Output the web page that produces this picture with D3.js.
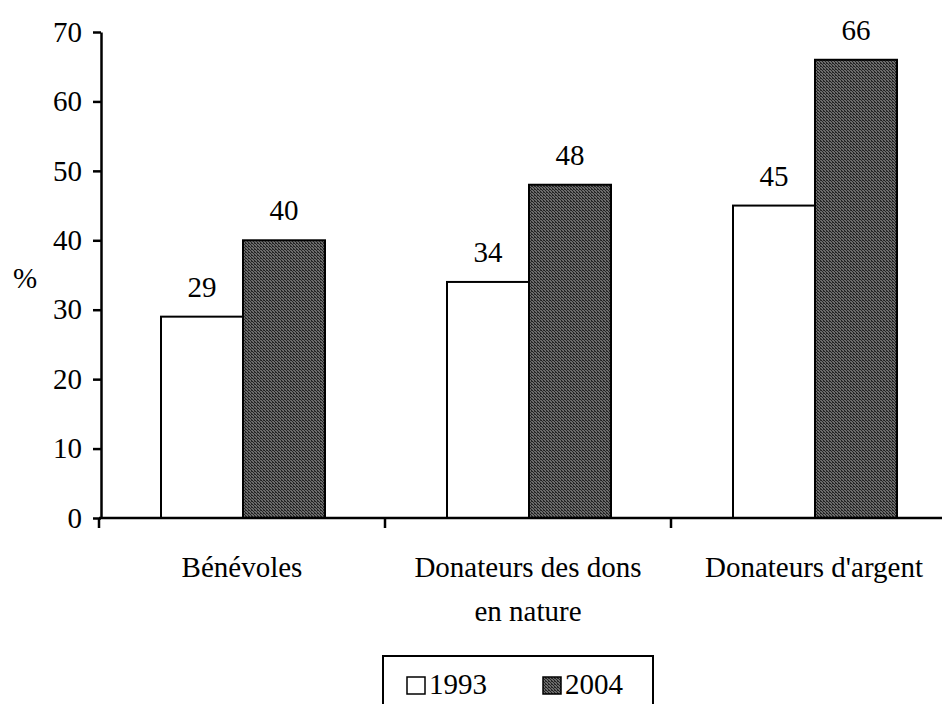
<!DOCTYPE html>
<html>
<head>
<meta charset="utf-8">
<script src="https://cdn.jsdelivr.net/npm/d3@7"></script>
<style>
  html, body { margin: 0; padding: 0; background: #fff; }
  svg { display: block; }
</style>
</head>
<body>
<svg id="chart" width="942" height="704"></svg>
<script>
const categories = [["Bénévoles"], ["Donateurs des dons", "en nature"], ["Donateurs d'argent"]];
const seriesNames = ["1993", "2004"];
const values1993 = [29, 34, 45];
const values2004 = [40, 48, 66];
const yTicks = [0, 10, 20, 30, 40, 50, 60, 70];

const FONT = "'Liberation Serif', 'Times New Roman', Tinos, serif";
const fontSize = 29;

const svg = d3.select("#chart");
const defs = svg.append("defs");
const pat = defs.append("pattern").attr("id", "stip").attr("width", 3).attr("height", 3)
  .attr("patternUnits", "userSpaceOnUse");
pat.append("rect").attr("width", 3).attr("height", 3).attr("fill", "#6c6c6c");
pat.append("rect").attr("x", 0).attr("y", 0).attr("width", 1).attr("height", 1).attr("fill", "#1e1e1e");
pat.append("rect").attr("x", 1).attr("y", 1).attr("width", 1).attr("height", 1).attr("fill", "#262626");
pat.append("rect").attr("x", 2).attr("y", 2).attr("width", 1).attr("height", 1).attr("fill", "#222");
pat.append("rect").attr("x", 2).attr("y", 0).attr("width", 1).attr("height", 1).attr("fill", "#303030");

const fills = ["#ffffff", "url(#stip)"];
const catIdx = categories.map((c, i) => i);

const x0 = d3.scaleBand().domain(catIdx).range([99, 957]).paddingInner(0).paddingOuter(0);
const x1 = d3.scaleBand().domain(seriesNames).range([62, 226]).padding(0);
const y = d3.scaleLinear().domain([0, 70]).range([518, 32]);

// bars
const data = catIdx.map(i => ({ i, vals: [values1993[i], values2004[i]] }));
const groups = svg.append("g").selectAll("g").data(data).join("g")
  .attr("transform", d => `translate(${x0(d.i)},0)`);

groups.selectAll("rect").data(d => d.vals.map((v, k) => ({ v, k })))
  .join("rect")
  .attr("x", d => x1(seriesNames[d.k]))
  .attr("y", d => y(d.v))
  .attr("width", x1.bandwidth())
  .attr("height", d => y(0) - y(d.v))
  .attr("fill", d => fills[d.k])
  .attr("stroke", "#000")
  .attr("stroke-width", 2);

groups.selectAll("text.val").data(d => d.vals.map((v, k) => ({ v, k })))
  .join("text")
  .attr("class", "val")
  .attr("x", d => x1(seriesNames[d.k]) + x1.bandwidth() / 2)
  .attr("y", d => y(d.v) - 20)
  .attr("text-anchor", "middle")
  .style("font-family", FONT)
  .style("font-size", fontSize + "px")
  .attr("fill", "#000")
  .text(d => d.v);

// y axis
const yAxis = d3.axisLeft(y).tickValues(yTicks).tickSize(8).tickPadding(11).tickSizeOuter(0);
const gy = svg.append("g").attr("transform", "translate(101,0)").call(yAxis);
gy.select(".domain").attr("stroke", "#000").attr("stroke-width", 2.5);
gy.selectAll(".tick line").attr("stroke", "#000").attr("stroke-width", 2.5);
gy.selectAll(".tick text")
  .style("font-family", FONT).style("font-size", fontSize + "px").attr("fill", "#000");

// x axis line
const xEdges = catIdx.map(i => x0(i)).concat([x0(catIdx.length - 1) + x0.bandwidth()]);
svg.append("line").attr("x1", 99).attr("x2", 942).attr("y1", y(0)).attr("y2", y(0))
  .attr("stroke", "#000").attr("stroke-width", 2.5);
svg.append("g").selectAll("line").data(xEdges).join("line")
  .attr("x1", d => d).attr("x2", d => d)
  .attr("y1", y(0)).attr("y2", y(0) + 10)
  .attr("stroke", "#000").attr("stroke-width", 2.5);

// category labels
const labs = svg.append("g").selectAll("text").data(catIdx).join("text")
  .attr("x", i => x0(i) + x0.bandwidth() / 2)
  .attr("y", 577)
  .attr("text-anchor", "middle")
  .style("font-family", FONT)
  .style("font-size", fontSize + "px")
  .attr("fill", "#000");
labs.selectAll("tspan").data(i => categories[i]).join("tspan")
  .attr("x", function() { return d3.select(this.parentNode).attr("x"); })
  .attr("dy", (d, k) => k === 0 ? 0 : 44)
  .text(d => d);

// y label
svg.append("text").attr("x", 25).attr("y", 278).attr("text-anchor", "middle")
  .attr("dominant-baseline", "central")
  .style("font-family", FONT).style("font-size", fontSize + "px")
  .attr("fill", "#000").text("%");

// legend
const lg = svg.append("g");
lg.append("rect").attr("x", 383).attr("y", 656).attr("width", 270).attr("height", 80)
  .attr("fill", "none").attr("stroke", "#000").attr("stroke-width", 2);
const legX = [407, 543];
seriesNames.forEach((s, k) => {
  lg.append("rect").attr("x", legX[k]).attr("y", 677).attr("width", 18).attr("height", 17)
    .attr("fill", fills[k]).attr("stroke", "#000").attr("stroke-width", 1.5);
  lg.append("text").attr("x", legX[k] + 22).attr("y", 694)
    .style("font-family", FONT).style("font-size", fontSize + "px")
    .attr("fill", "#000").text(s);
});
</script>
</body>
</html>
